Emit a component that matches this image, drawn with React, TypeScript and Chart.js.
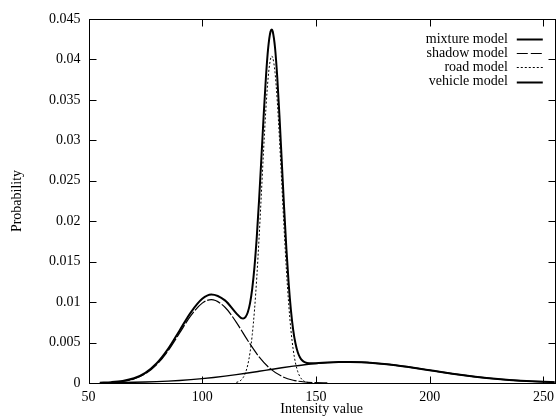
import React, { useEffect, useRef } from "react";
import { Chart, registerables } from "chart.js";

Chart.register(...registerables);

const seriesNames = ["mixture model", "shadow model", "road model", "vehicle model"];

const xMixture = [55, 60, 65, 70, 75, 80, 85, 90, 95, 100, 104, 110, 115, 117, 118, 119, 120, 121, 122, 123, 124, 125, 126, 127, 128, 129, 130, 130.6, 131, 132, 133, 134, 135, 136, 137, 138, 139, 140, 141, 142, 143, 144, 145, 147, 150, 155, 160, 165, 170, 175, 180, 185, 190, 195, 200, 205, 210, 215, 220, 225, 230, 235, 240, 245, 250, 255];
const yMixture = [0.000045, 0.000104, 0.000249, 0.000581, 0.001254, 0.002441, 0.004226, 0.006471, 0.008741, 0.010411, 0.010948, 0.010215, 0.008602, 0.008059, 0.007975, 0.008146, 0.00871, 0.009836, 0.011699, 0.014441, 0.018124, 0.022656, 0.027772, 0.033008, 0.037775, 0.041431, 0.043436, 0.043698, 0.043461, 0.041475, 0.037744, 0.03278, 0.027209, 0.021645, 0.016579, 0.012319, 0.008989, 0.00655, 0.004877, 0.003799, 0.003145, 0.002773, 0.002578, 0.002445, 0.002451, 0.002531, 0.002587, 0.002599, 0.002564, 0.002481, 0.002356, 0.002193, 0.002003, 0.001795, 0.001577, 0.001359, 0.001149, 0.000953, 0.000775, 0.000619, 0.000484, 0.000372, 0.00028, 0.000207, 0.00015, 0.000107];

const xShadow = [55, 60, 65, 70, 75, 80, 85, 90, 95, 100, 104, 110, 115, 120, 125, 130, 135, 140, 145, 150, 155];
const yShadow = [0.000019, 0.000064, 0.00019, 0.000495, 0.001132, 0.00227, 0.003992, 0.006157, 0.008327, 0.009876, 0.0103, 0.009371, 0.007497, 0.005259, 0.003236, 0.001746, 0.000826, 0.000343, 0.000125, 0.00004, 0.000011];

const xRoad = [115, 116, 117, 118, 119, 120, 121, 122, 123, 124, 125, 126, 127, 128, 129, 130, 130.6, 131, 132, 133, 134, 135, 136, 137, 138, 139, 140, 141, 142, 143, 144, 145, 146, 147];
const yRoad = [0.000075, 0.000164, 0.00034, 0.000669, 0.001251, 0.002219, 0.003739, 0.005983, 0.00909, 0.013118, 0.017974, 0.023392, 0.028906, 0.033928, 0.037814, 0.040025, 0.0404, 0.040234, 0.038408, 0.034817, 0.029973, 0.024503, 0.019024, 0.014027, 0.009821, 0.006533, 0.004125, 0.002474, 0.001409, 0.000762, 0.000391, 0.000191, 0.000088, 0.000039];

const xVehicle = [55, 60, 65, 70, 75, 80, 85, 90, 95, 100, 105, 110, 115, 120, 125, 130, 135, 140, 145, 150, 155, 160, 165, 170, 175, 180, 185, 190, 195, 200, 205, 210, 215, 220, 225, 230, 235, 240, 245, 250, 255];
const yVehicle = [0.0000265, 0.00004, 0.0000593, 0.000086, 0.000122, 0.000171, 0.000234, 0.000314, 0.000414, 0.000535, 0.000679, 0.000844, 0.00103, 0.001232, 0.001446, 0.001665, 0.00188, 0.002082, 0.002262, 0.002411, 0.00252, 0.002584, 0.002599, 0.002564, 0.002481, 0.002356, 0.002193, 0.002003, 0.001795, 0.001577, 0.001359, 0.001149, 0.000953, 0.000775, 0.000619, 0.000484, 0.000372, 0.00028, 0.000207, 0.00015, 0.000107];

const yTickLabels = ["0", "0.005", "0.01", "0.015", "0.02", "0.025", "0.03", "0.035", "0.04", "0.045"];
const xTitle = "Intensity value";
const yTitle = "Probability";

const FONT = "'Liberation Serif', 'DejaVu Serif', serif";
const FS = 14;

const pts = (xs: number[], ys: number[]) => xs.map((x, i) => ({ x, y: ys[i] }));

const framePlugin = {
  id: "gnuframe",
  afterDatasetsDraw(chart: any) {
    const { ctx, chartArea: a, scales } = chart;
    const L = Math.round(a.left) + 0.5;
    const R = Math.round(a.right) + 0.5;
    const T = Math.round(a.top) + 0.5;
    const B = Math.round(a.bottom) + 0.5;
    ctx.save();
    ctx.strokeStyle = "#000";
    ctx.lineWidth = 1;
    ctx.setLineDash([]);
    ctx.strokeRect(L, T, R - L, B - T);
    const tl = 7;
    ctx.beginPath();
    scales.x.ticks.forEach((t: any) => {
      const px = Math.round(scales.x.getPixelForValue(t.value)) + 0.5;
      ctx.moveTo(px, B);
      ctx.lineTo(px, B - tl);
      ctx.moveTo(px, T);
      ctx.lineTo(px, T + tl);
    });
    scales.y.ticks.forEach((t: any) => {
      const py = Math.round(scales.y.getPixelForValue(t.value)) + 0.5;
      ctx.moveTo(L, py);
      ctx.lineTo(L + tl, py);
      ctx.moveTo(R, py);
      ctx.lineTo(R - tl, py);
    });
    ctx.stroke();

    // legend (gnuplot style: right aligned text, sample on the right)
    ctx.font = `${FS}px ${FONT}`;
    ctx.fillStyle = "#000";
    ctx.textAlign = "right";
    ctx.textBaseline = "middle";
    const textRight = a.right - 47;
    const s0 = a.right - 38;
    const s1 = a.right - 12;
    chart.data.datasets.forEach((ds: any, i: number) => {
      const y = a.top + 20 + i * 14.2;
      ctx.fillText(ds.label, textRight, y);
      ctx.beginPath();
      ctx.lineWidth = ds.legendWidth;
      ctx.setLineDash(ds.legendDash || []);
      ctx.moveTo(s0, Math.round(y) + 0.5);
      ctx.lineTo(s1, Math.round(y) + 0.5);
      ctx.stroke();
    });
    ctx.restore();
  },
};

export default function App() {
  const ref = useRef<HTMLCanvasElement>(null);
  useEffect(() => {
    document.body.style.overflow = "hidden";
    const common = {
      borderColor: "#000",
      backgroundColor: "#000",
      pointRadius: 0,
      fill: false,
      cubicInterpolationMode: "monotone" as const,
    };
    const chart = new Chart(ref.current!, {
      type: "line",
      data: {
        datasets: [
          { ...common, label: seriesNames[0], data: pts(xMixture, yMixture), borderWidth: 2, legendWidth: 2 } as any,
          { ...common, label: seriesNames[1], data: pts(xShadow, yShadow), borderWidth: 1.2, borderDash: [14, 2], legendWidth: 1, legendDash: [11, 3] } as any,
          { ...common, label: seriesNames[2], data: pts(xRoad, yRoad), borderWidth: 1, borderDash: [2, 2], legendWidth: 1, legendDash: [2, 2] } as any,
          { ...common, label: seriesNames[3], data: pts(xVehicle, yVehicle), borderWidth: 1.4, legendWidth: 2 } as any,
        ],
      },
      options: {
        animation: false,
        responsive: false,
        devicePixelRatio: 1,
        layout: { padding: { top: 19, right: 3.5, bottom: 0, left: 0 } },
        plugins: { legend: { display: false }, tooltip: { enabled: false } },
        scales: {
          x: {
            type: "linear",
            min: 50,
            max: 255,
            grid: { display: false, drawTicks: false },
            border: { display: false },
            ticks: {
              stepSize: 50,
              includeBounds: false,
              autoSkip: false,
              maxRotation: 0,
              padding: 6,
              color: "#000",
              font: { family: FONT, size: FS },
            },
            title: {
              display: true,
              text: xTitle,
              color: "#000",
              font: { family: FONT, size: FS },
              padding: { top: 0, bottom: -1 },
            },
            afterFit: (s: any) => {
              s.height = 34;
            },
          },
          y: {
            type: "linear",
            min: 0,
            max: 0.045,
            grid: { display: false, drawTicks: false },
            border: { display: false },
            ticks: {
              stepSize: 0.005,
              autoSkip: false,
              padding: 8,
              color: "#000",
              font: { family: FONT, size: FS },
              callback: (_v: any, i: number) => yTickLabels[i],
            },
            title: {
              display: true,
              text: yTitle,
              color: "#000",
              font: { family: FONT, size: FS },
              padding: { top: 9, bottom: 0 },
            },
            afterFit: (s: any) => {
              s.width = 88.5;
            },
          },
        },
      },
      plugins: [framePlugin],
    });
    return () => chart.destroy();
  }, []);
  return (
    <div style={{ position: "fixed", left: 0, top: 0, width: 560, height: 417, background: "#fff" }}>
      <canvas ref={ref} width={560} height={417} style={{ display: "block" }} />
    </div>
  );
}
